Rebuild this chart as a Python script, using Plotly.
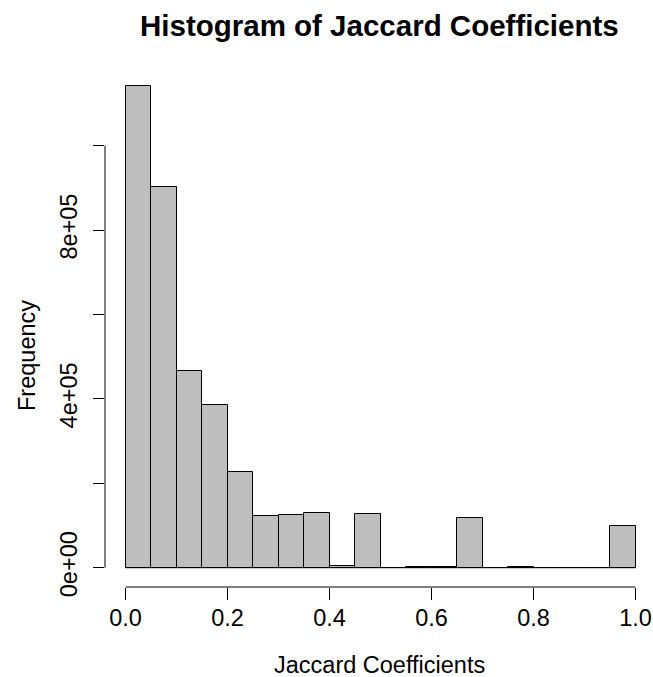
import plotly.graph_objects as go

# Data
bin_edges = [round(i * 0.05, 2) for i in range(21)]
counts = [1141000, 903000, 467000, 386000, 227500, 123000, 125000, 129000,
          3000, 127000, 0, 2000, 1000, 117000, 500, 1000, 0, 0, 0, 99000]
x_tick_vals = [0.0, 0.2, 0.4, 0.6, 0.8, 1.0]
x_tick_text = ["0.0", "0.2", "0.4", "0.6", "0.8", "1.0"]
y_tick_vals = [0, 200000, 400000, 600000, 800000, 1000000]
y_tick_text = ["0e+00", "", "4e+05", "", "8e+05", ""]

centers = [(bin_edges[i] + bin_edges[i + 1]) / 2 for i in range(len(counts))]
widths = [bin_edges[i + 1] - bin_edges[i] for i in range(len(counts))]

FONT = "Liberation Sans, Arial, Helvetica, sans-serif"

fig = go.Figure()
fig.add_trace(go.Bar(
    x=centers, y=counts, width=widths,
    marker=dict(color="#BEBEBE", line=dict(color="black", width=1)),
    showlegend=False,
))
# baseline of the histogram rectangles (visible where bins are empty)
fig.add_trace(go.Scatter(
    x=[bin_edges[0], bin_edges[-1]], y=[0, 0], mode="lines",
    line=dict(color="black", width=1), showlegend=False, hoverinfo="skip",
))

fig.update_layout(
    width=653, height=677,
    margin=dict(l=105, r=0, t=67, b=90),
    paper_bgcolor="white", plot_bgcolor="white",
    font=dict(family=FONT, size=23, color="black"),
    bargap=0,
    xaxis=dict(
        range=[-0.0402, 1.0343], showgrid=False, zeroline=False, showline=False,
        tickmode="array", tickvals=x_tick_vals, ticktext=x_tick_text,
        ticks="outside", ticklen=12, tickwidth=1, tickcolor="black",
        tickfont=dict(size=23.5), ticklabelstandoff=-2,
    ),
    yaxis=dict(
        range=[-45700, 1186500], showgrid=False, zeroline=False, showline=False,
        tickmode="array", tickvals=y_tick_vals, ticktext=y_tick_text,
        ticks="outside", ticklen=11, tickwidth=1, tickcolor="black",
        tickfont=dict(size=23.5), tickangle=-90, ticklabelstandoff=7,
    ),
    shapes=[
        dict(type="line", xref="x", yref="paper", x0=0, x1=1, y0=0, y1=0,
             line=dict(color="black", width=1)),
        dict(type="line", xref="paper", yref="y", x0=0, x1=0, y0=0, y1=1000000,
             line=dict(color="black", width=1)),
    ],
    annotations=[
        dict(text="<b>Histogram of Jaccard Coefficients</b>", xref="paper", yref="paper",
             x=(379 - 105) / 548, y=(587 - 25.5) / 520, xanchor="center", yanchor="middle",
             showarrow=False, font=dict(size=29.5)),
        dict(text="Jaccard Coefficients", xref="paper", yref="paper",
             x=(379 - 105) / 548, y=(587 - 665) / 520, xanchor="center", yanchor="middle",
             showarrow=False, font=dict(size=23.5)),
        dict(text="Frequency", xref="paper", yref="paper",
             x=(27 - 105) / 548, y=(587 - 356) / 520, xanchor="center", yanchor="middle",
             showarrow=False, textangle=-90, font=dict(size=23.5)),
    ],
)

fig.write_html("out.html")
